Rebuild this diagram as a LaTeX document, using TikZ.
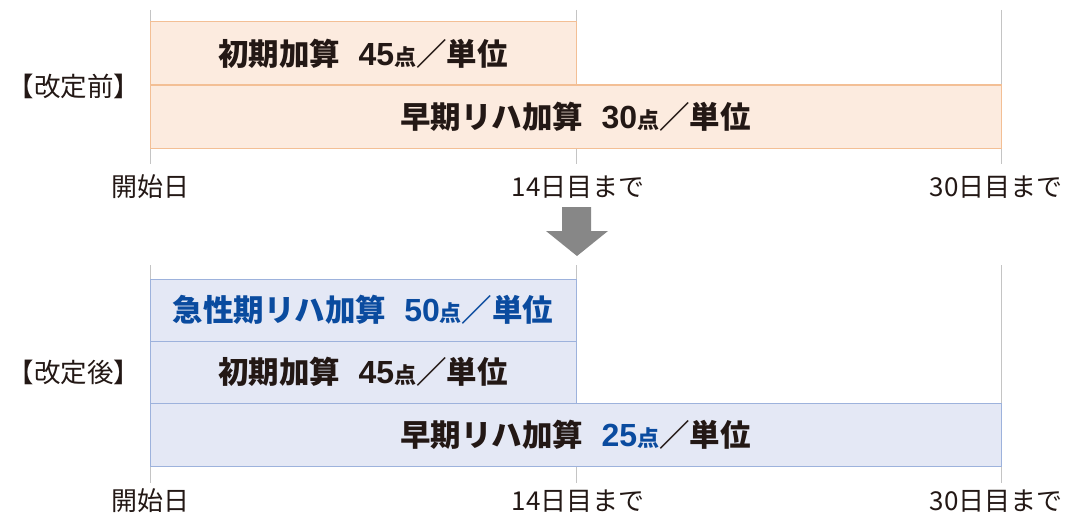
\documentclass[tikz,border=0pt]{standalone}
\usepackage{fontspec}
\setmainfont{Noto Sans CJK JP}
\newfontfamily\numfont{Liberation Sans}
\usepackage{tikz}
\usetikzlibrary{positioning}

\definecolor{peachfill}{HTML}{FCEBDF}
\definecolor{peachline}{HTML}{F3BF95}
\definecolor{bluefill}{HTML}{E4E8F5}
\definecolor{blueline}{HTML}{9DB2DC}
\definecolor{bluetext}{HTML}{0A4B9F}
\definecolor{inktext}{HTML}{231815}
\definecolor{tickgray}{HTML}{C4C4C4}
\definecolor{arrowgray}{HTML}{878787}

\newcommand{\ten}[1]{{\fontsize{22}{22}\selectfont #1}}
\newcommand{\num}[1]{{\numfont\fontsize{32}{32}\selectfont #1}}

\begin{document}
\begin{tikzpicture}[x=1pt, y=-1pt,
    tick/.style={tickgray, line width=1pt},
    bar/.style={draw, line width=1pt, inner sep=0pt, minimum height=63pt,
      font=\bfseries\fontsize{30.5}{30.5}\selectfont, text=inktext},
    oldbar/.style={bar, draw=peachline, fill=peachfill},
    newbar/.style={bar, draw=blueline, fill=bluefill},
    daylabel/.style={font=\fontsize{26}{26}\selectfont, text=inktext, inner sep=0pt},
    phase/.style={font=\fontsize{26.5}{26.5}\selectfont, text=inktext, inner sep=0pt}]
  \useasboundingbox (0,0) rectangle (1079,527);

  % before
  \draw[tick] (150,10) -- (150,164);
  \draw[tick] (576,10) -- (576,164);
  \draw[tick] (1001,10) -- (1001,164);
  \node[oldbar, minimum width=426pt] (bef_init) at (363,53.5) {初期加算\hspace{0.6em}\num{45}\ten{点}／単位};
  \node[oldbar, minimum width=851pt] (bef_early) at (575.5,116.5) {早期リハ加算\hspace{0.6em}\num{30}\ten{点}／単位};
  \node[phase] (bef) at (74,86) {【改定前】};
  \node[daylabel] (bef_d0) at (150,187) {開始日};
  \node[daylabel] (bef_d14) at (578,187) {14日目まで};
  \node[daylabel] (bef_d30) at (996,187) {30日目まで};

  % arrow
  \fill[arrowgray] (562,207) -- (591,207) -- (591,231) -- (608,231) -- (577,256)
    -- (546,231) -- (562,231) -- cycle;

  % after
  \draw[tick] (150,265) -- (150,483);
  \draw[tick] (576,265) -- (576,483);
  \draw[tick] (1001,265) -- (1001,483);
  \node[newbar, minimum width=426pt, minimum height=62pt, text=bluetext] (aft_acute) at (363,310) {急性期リハ加算\hspace{0.6em}\num{50}\ten{点}／単位};
  \node[newbar, minimum width=426pt, minimum height=62pt] (aft_init) at (363,372) {初期加算\hspace{0.6em}\num{45}\ten{点}／単位};
  \node[newbar, minimum width=851pt] (aft_early) at (575.5,434.5) {早期リハ加算\hspace{0.6em}\textcolor{bluetext}{\num{25}\ten{点}}／単位};
  \node[phase] (aft) at (74,372) {【改定後】};
  \node[daylabel] (aft_d0) at (150,501) {開始日};
  \node[daylabel] (aft_d14) at (578,501) {14日目まで};
  \node[daylabel] (aft_d30) at (996,501) {30日目まで};
\end{tikzpicture}
\end{document}
